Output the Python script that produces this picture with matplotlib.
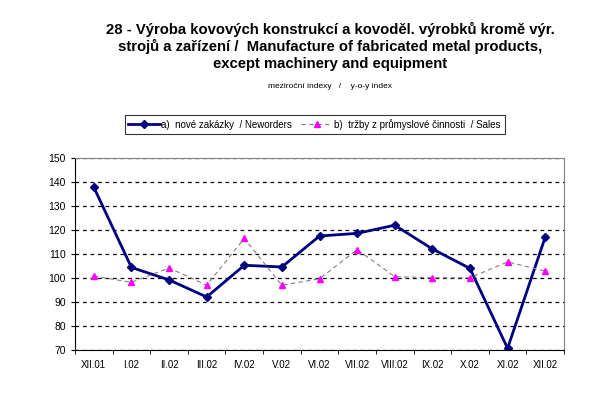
import matplotlib
matplotlib.use('Agg')
import matplotlib.pyplot as plt
from matplotlib.ticker import FixedLocator, NullFormatter

plt.rcParams['font.family'] = ['Liberation Sans', 'DejaVu Sans']

months = ['XII.01', 'I.02', 'II.02', 'III.02', 'IV.02', 'V.02', 'VI.02',
          'VII.02', 'VIII.02', 'IX.02', 'X.02', 'XI.02', 'XII.02']
new_orders = [137.8, 104.4, 99.2, 92.1, 105.3, 104.6, 117.5,
              118.6, 122.0, 112.1, 104.0, 70.7, 117.0]
sales = [100.8, 98.2, 104.2, 97.0, 116.5, 97.0, 99.7,
         111.8, 100.6, 100.1, 100.1, 106.7, 102.9]

fig = plt.figure(figsize=(6.06, 3.98), dpi=100)
ax = fig.add_axes([0.1238, 0.1206, 0.8069, 0.4824])

x = list(range(len(months)))
ax.plot(x, new_orders, color='#000080', lw=2, marker='D', ms=4,
        label='a)  nové zakázky  / Neworders')
ax.plot(x, sales, color='#808080', lw=0.8, ls=(0, (4, 3)), marker='^', ms=4.5,
        mfc='#ff00ff', mec='#ff00ff',
        label='b)  tržby z průmyslové činnosti  / Sales')

ax.set_ylim(70, 150)
ax.set_yticks(range(70, 151, 10))
ax.set_xlim(-0.5, len(months) - 0.5)
ax.set_xticks(x)
ax.set_xticklabels(months)
ax.xaxis.set_minor_locator(FixedLocator([i - 0.5 for i in range(len(months) + 1)]))
ax.xaxis.set_minor_formatter(NullFormatter())
ax.tick_params(axis='x', which='major', length=0, labelsize=7, pad=7)
ax.tick_params(axis='x', which='minor', length=3, direction='out')
ax.tick_params(axis='y', length=3, direction='out', labelsize=7.5)

ax.yaxis.grid(True, color='black', ls=(0, (3, 3)), lw=0.9)
ax.spines['top'].set_color('#808080')
ax.spines['right'].set_color('#808080')

fig.text(0.545, 0.945, '28 - Výroba kovových konstrukcí a kovoděl. výrobků kromě výr.\n'
         'strojů a zařízení /  Manufacture of fabricated metal products,\n'
         'except machinery and equipment',
         ha='center', va='top', fontsize=10.7, fontweight='bold', linespacing=1.2)
fig.text(0.545, 0.783, 'meziroční indexy   /    y-o-y index', ha='center', va='center',
         fontsize=6)

leg = fig.legend(loc='center', bbox_to_anchor=(0.519, 0.688), ncol=2, fontsize=7,
                 frameon=True, fancybox=False, edgecolor='black', handlelength=3.2,
                 columnspacing=0.9, handletextpad=0.2, borderpad=0.4, markerscale=0.9)
leg.get_frame().set_linewidth(0.8)

fig.savefig('out.png', dpi=100)
